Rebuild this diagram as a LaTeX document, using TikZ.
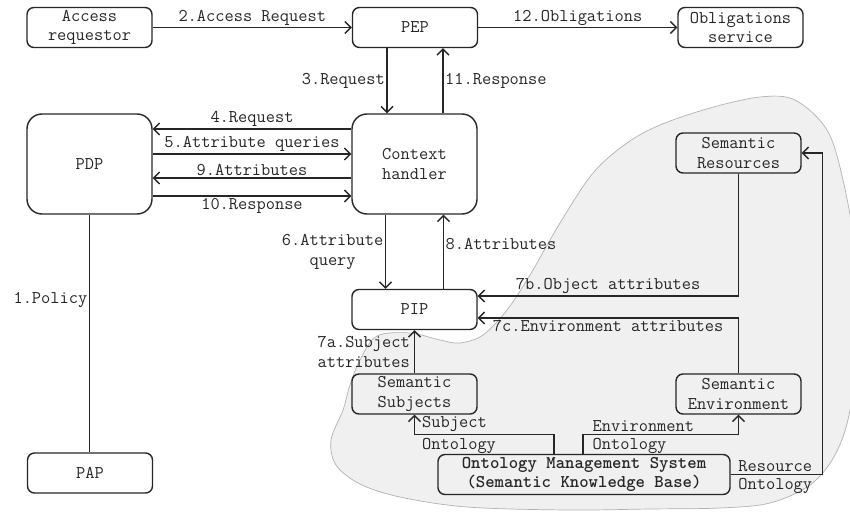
\documentclass[tikz,border=0pt]{standalone}
\usepackage{fontspec}
\usetikzlibrary{arrows.meta}
\begin{document}
\begin{tikzpicture}[x=1pt,y=-1pt,
  every node/.style={font=\ttfamily\fontsize{17.9}{19.5}\selectfont, text=black!85},
  box/.style={draw=black!85, line width=1.4pt, rounded corners=7pt,
    minimum width=125pt, minimum height=40pt, align=center, inner sep=0pt},
  bigbox/.style={box, rounded corners=15pt, minimum height=100pt},
  conn/.style={line width=1.4pt, draw=black!85},
  arr/.style={conn, -{Straight Barb[length=6pt,width=12pt]}},
  lbl/.style={inner sep=1.5pt, align=center},
  tag/.style={inner sep=0.5pt},
  cloud/.style={fill=black!6, draw=black!30, line width=0.7pt},
]
\useasboundingbox (0,0) rectangle (850,513);

% semantic knowledge area
\path[cloud] plot[smooth cycle, tension=0.55] coordinates {
  (440,340) (410,333) (377,336) (360,360) (350,385) (343,410) (331,440)
  (336,465) (360,484) (400,497) (467,507) (567,510) (650,509) (720,508)
  (770,503) (810,485) (835,455) (850,410) (858,330) (855,250) (843,180)
  (827,130) (795,100) (760,97) (710,108) (660,125) (627,143) (593,173)
  (560,223) (530,275) (507,310) (483,335) (460,343)};

% components
\node[box] (AR)  at (89.5,27.5)  {Access\\requestor};
\node[box] (PEP) at (415,27.5)   {PEP};
\node[box] (OBL) at (740.5,27.5) {Obligations\\service};
\node[bigbox] (PDP) at (89.5,164)  {PDP};
\node[bigbox] (CH)  at (414.5,164) {Context\\handler};
\node[box] (PIP) at (414.5,309.5) {PIP};
\node[box] (SR)  at (738.5,153)   {Semantic\\Resources};
\node[box] (SS)  at (414.5,394)   {Semantic\\Subjects};
\node[box] (SE)  at (738.5,394)   {Semantic\\Environment};
\node[box, minimum width=292pt, font=\ttfamily\fontsize{17.9}{19.5}\selectfont\bfseries] (OMS) at (584,474.5)
  {Ontology Management System\\(Semantic Knowledge Base)};
\node[box] (PAP) at (90,473) {PAP};

% request flow
\draw[arr] (AR) -- node[lbl, above] {2.Access Request} (PEP);
\draw[arr] (PEP) -- node[lbl, above] {12.Obligations} (OBL);
\draw[arr] ([xshift=-28pt]PEP.south) -- node[lbl, left] {3.Request} ([xshift=-28pt]PEP.south |- CH.north);
\draw[arr] ([xshift=28pt]PEP.south |- CH.north) -- node[lbl, right] {11.Response} ([xshift=28pt]PEP.south);

\draw[arr] ([yshift=35pt]CH.west) -- node[lbl, above] {4.Request} ([yshift=35pt]CH.west -| PDP.east);
\draw[arr] ([yshift=10pt]PDP.east) -- node[lbl, above] {5.Attribute queries} ([yshift=10pt]PDP.east -| CH.west);
\draw[arr] ([yshift=-14pt]CH.west) -- node[lbl, above] {9.Attributes} ([yshift=-14pt]CH.west -| PDP.east);
\draw[arr] ([yshift=-32pt]PDP.east) -- node[lbl, below] {10.Response} ([yshift=-32pt]PDP.east -| CH.west);

\draw[conn] (PDP.south) -- node[lbl, left, pos=0.36] {1.Policy} (PDP.south |- PAP.north);

\draw[arr] ([xshift=-29pt]CH.south) -- node[lbl, left] {6.Attribute\\query} ([xshift=-29pt]CH.south |- PIP.north);
\draw[arr] ([xshift=29pt]CH.south |- PIP.north) -- node[lbl, right, pos=0.6] {8.Attributes} ([xshift=29pt]CH.south);

% attribute sources
\draw[arr] (SR.south) |- node[lbl, above, pos=0.75] {7b.Object attributes} ([yshift=13.5pt]PIP.east);
\draw[arr] (SE.north) |- node[lbl, below, pos=0.75] {7c.Environment attributes} ([yshift=-8.5pt]PIP.east);
\draw[arr] (SS.north) -- node[lbl, left, align=left, inner sep=4pt] {7a.Subject\\attributes} (SS.north |- PIP.south);

% ontologies
\coordinate (sc) at ([yshift=-20pt]SS.south);
\coordinate (ec) at ([xshift=-1pt]OMS.north |- sc);
\draw[arr] ([xshift=-30pt]OMS.north) |- (sc) -- (SS.south);
\draw[arr] ([xshift=-1pt]OMS.north) |- ([yshift=-20pt]SE.south) -- (SE.south);
\draw[arr] (OMS.east) -- ++(92,0) coordinate (rc) |- (SR.east);

\node[tag, anchor=south west] at ([xshift=7pt,yshift=2pt]sc) {Subject};
\node[tag, anchor=north west] at ([xshift=7pt,yshift=-3pt]sc) {Ontology};
\node[tag, anchor=south west] at ([xshift=9pt,yshift=2pt]ec) {Environment};
\node[tag, anchor=north west] at ([xshift=9pt,yshift=-3pt]ec) {Ontology};
\node[tag, anchor=south west] at ([xshift=7pt,yshift=2pt]OMS.east) {Resource};
\node[tag, anchor=north west] at ([xshift=7pt,yshift=-3pt]OMS.east) {Ontology};
\end{tikzpicture}
\end{document}
